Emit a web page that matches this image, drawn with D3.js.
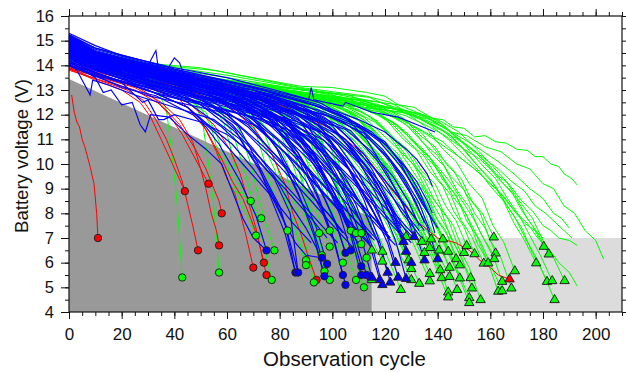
<!DOCTYPE html>
<html>
<head>
<meta charset="utf-8">
<script src="https://cdn.jsdelivr.net/npm/d3@7"></script>
<style>
  body { margin: 0; background: #fff; }
  text { font-family: "Liberation Sans", Arial, sans-serif; fill: #111; }
</style>
</head>
<body>
<svg id="chart" width="626" height="372"></svg>
<script>
// axis ticks
const xTickLabels = [0, 20, 40, 60, 80, 100, 120, 140, 160, 180, 200]
const yTickLabels = [4, 5, 6, 7, 8, 9, 10, 11, 12, 13, 14, 15, 16]

// shaded zones: early failure (below the diagonal) and late failure box
const earlyZone = [[0, 4], [0, 13.45], [115, 7.82], [115, 4]]
const lateZone = [[115, 4], [115, 7], [210, 7], [210, 4]]

// voltage runs, flat [cycle, volt, cycle, volt, ...]
const blueRuns = [
  [0,14.04,10,13.6,20,13.1,33,12.77,47,12.0,52,11.5,57,10.8,65,9.3,71,7.9,75,6.5],
  [0,14.32,10,13.83,25,13.24,44,12.77,58,11.9,63,11.4,68,10.5,72,9.9,76,8.8,82,7.2,86,5.6],
  [0,14.6,10,14.05,25,13.5,45,13.0,59,12.1,64,11.6,69,10.6,77,8.9,80,8.3,83,7.2,87,5.6],
  [0,14.18,10,13.72,30,12.96,54,12.38,68,11.6,78,10.4,82,9.9,86,9.0,92,7.6,96,6.2],
  [0,14.88,10,14.27,30,13.6,55,13.0,69,12.1,79,10.6,87,8.85,93,7.1,97,5.45],
  [0,14.46,10,13.94,30,13.22,56,12.6,70,11.8,80,10.5,88,8.9,94,7.4,98,5.95],
  [0,14.74,10,14.16,35,13.38,62,12.72,76,11.85,86,10.4,94,8.75,100,7.1,104,5.5],
  [0,15.02,10,14.38,35,13.64,63,12.95,77,12.0,87,10.45,95,8.6,101,6.8,105,5.1],
  [0,14.39,10,13.88,35,13.05,63,12.36,77,11.65,87,10.45,95,9.1,101,7.7,105,6.4],
  [0,15.16,10,14.49,35,13.77,65,13.02,79,12.24,89,10.9,97,9.4,103,7.9,107,6.5],
  [0,14.6,10,14.05,35,13.25,69,12.38,83,11.6,93,10.3,101,8.8,107,7.3,111,5.85],
  [0,14.95,10,14.33,35,13.58,69,12.7,83,11.85,93,10.4,101,8.75,107,7.1,111,5.5],
  [0,14.11,10,13.66,35,12.8,71,11.87,85,11.1,95,9.85,103,8.4,109,6.9,113,5.5],
  [0,15.09,10,14.43,40,13.62,73,12.71,87,11.85,97,10.35,105,8.7,111,7.0,115,5.4],
  [0,14.53,10,14.0,40,13.14,76,12.1,90,11.3,100,9.9,108,8.35,114,6.8,118,5.3],
  [0,14.81,10,14.22,40,13.38,77,12.33,91,11.45,101,10.0,109,8.35,115,6.7,119,5.1],
  [0,15.23,10,14.55,40,13.74,80,12.63,94,11.75,104,10.25,112,8.55,118,6.85,122,5.2],
  [0,14.67,10,14.1,40,13.26,82,12.05,96,11.3,106,10.1,114,8.7,120,7.35,124,6.0],
  [0,14.32,10,13.83,40,12.96,83,11.7,97,10.95,107,9.7,115,8.2,121,6.8,125,5.4],
  [0,14.88,10,14.27,40,13.44,85,12.16,99,11.5,109,10.45,117,9.25,123,8.0,127,6.85],
  [0,14.46,10,13.94,40,13.08,86,11.74,100,11.1,110,10.05,118,8.85,124,7.6,128,6.45],
  [0,15.16,10,14.49,40,13.68,86,12.39,100,11.55,110,10.15,118,8.5,124,6.9,128,5.35],
  [0,14.74,10,14.16,40,13.32,88,11.94,102,11.2,112,10.05,120,8.65,126,7.3,130,6.0],
  [0,15.3,10,14.8,20,14.4,40,13.9,60,13.5,80,12.95,95,12.5,105,11.9,113,11.0,121,9.6,127,8.3,131,7.05],
  [0,15.02,10,14.38,40,13.56,93,12.05,107,11.35,117,10.15,125,8.8,131,7.4,135,6.1],
  [0,15.09,10,14.43,40,13.62,98,11.96,112,11.25,122,10.1,130,8.75,136,7.45,140,6.15],
  [0,14.25,10,13.78,40,12.9,79,11.75,93,11.0,103,9.8,111,8.35,117,6.95,121,5.6],
  [0,13.97,10,13.55,30,12.77,58,12.1,72,11.5,82,10.45,90,9.3,96,8.1,100,7.0],
  [0,14.6,10,14.05,35,13.25,67,12.44,81,11.8,91,10.75,99,9.55,105,8.35,109,7.2],
  [0,14.11,10,13.66,40,12.78,74,11.78,88,11.2,98,10.3,106,9.2,112,8.15,116,7.1],
  [0,14.95,10,14.33,40,13.5,78,12.43,92,11.8,102,10.8,110,9.6,116,8.45,120,7.3],
  [0,14.39,10,13.88,40,13.02,84,11.73,98,11.2,108,10.35,116,9.35,122,8.35,126,7.4],
  [0,14.81,10,14.22,40,13.38,91,11.91,105,11.4,115,10.5,123,9.5,129,8.45,133,7.5],
  [0,15.23,10,14.55,40,13.74,95,12.18,109,11.6,119,10.6,127,9.5,133,8.4,137,7.3],
  [0,15.2,10,14.7,40,13.85,80,12.9,91,12.6,92,13.1,93,12.6,104,12.35,105,12.5,115,12.1,125,11.9,132,11.6,139,11.3],
  [0,15.0,10,14.5,40,13.7,80,12.75,100,12.2,110,11.8,120,11.3,128,10.6,132,10.2,136,9.6,138,9.1],
  [0,14.9,10,14.3,40,13.5,80,12.5,100,11.9,112,11.4,120,10.9,126,10.0,130,9.2,134,8.4,137,7.9],
  [0,14.5,10,14.0,20,13.7,30,13.5,31,14.2,33,14.6,34,13.8,36,13.6,40,14.3,42,14.1,44,13.5,60,13.1,80,12.5,95,11.8,105,11.0,113,9.9,119,8.6,124,7.5,127,6.9],
  [0,14.1,3,13.8,6,13.2,8,12.8,9,13.4,15,13.2,25,12.8,40,12.3,55,11.8,65,11.0,72,9.8,78,8.6,82,7.6,86,5.6],
  [0,14.2,10,13.5,13,12.9,16,13.0,20,12.4,24,12.5,27,11.6,29,11.3,31,12.0,38,11.9,45,11.2,52,10.6,58,10.0,62,8.9,66,7.8,70,7.0,75,6.5],
  [0,14.0,10,13.6,20,13.3,28,12.5,30,12.6,34,11.8,36,11.8,40,12.0,50,11.7,60,11.2,70,10.4,78,9.4,84,8.0,87,5.6],
  [0,14.3,10,13.7,30,13.0,45,12.3,55,11.4,62,10.8,70,9.8,76,8.9,82,7.6,86,6.8,90,6.3,96,6.2],
  [0,14.4,10,13.8,35,13.0,50,12.5,62,11.6,70,10.6,78,9.5,85,8.2,90,7.4,94,6.6,97,5.45],
  [0,14.7,10,14.1,40,13.3,60,12.7,72,12.0,82,11.0,90,9.9,97,8.6,102,7.4,105,6.4],
  [0,15.1,10,14.45,40,13.65,70,13.0,85,12.5,97,11.9,107,11.0,115,9.8,121,8.6,126,7.6,129,7.1],
  [0,14.85,10,14.25,40,13.45,70,12.7,85,12.1,95,11.4,103,10.4,110,9.2,115,8.2,119,7.4,122,7.0],
  [0,14.55,10,14.0,40,13.2,70,12.4,82,11.8,92,10.9,100,9.7,106,8.6,110,7.8,113,7.2],
  [0,14.95,10,14.35,40,13.55,75,12.8,90,12.2,102,11.5,112,10.4,120,9.2,126,8.1,131,7.4,134,7.0],
  [0,14.65,10,14.1,40,13.3,65,12.6,78,11.9,88,10.9,95,9.8,101,8.6,105,7.6,108,7.0],
  [0,15.25,10,14.7,40,13.85,80,12.85,95,12.4,108,11.7,118,10.9,126,9.9,132,8.9,136,8.1,140,7.4],
  [0,14.35,10,13.85,40,13.0,70,12.2,82,11.4,91,10.3,98,9.1,104,7.9,108,7.1,111,6.6],
  [0,14.75,10,14.2,40,13.4,75,12.6,88,11.9,99,10.9,107,9.7,113,8.5,118,7.6,122,6.9],
  [0,14.5,10,14.0,30,13.4,45,12.9,60,12.0,75,10.6,90,9.0,100,7.8,106,7.0],
  [0,14.8,10,14.2,30,13.6,50,13.0,65,12.2,80,10.9,95,9.3,108,7.8,116,6.9],
  [0,15.0,10,14.4,35,13.7,55,13.1,72,12.2,88,10.9,102,9.4,114,8.0,122,7.0],
  [0,14.3,10,13.8,30,13.1,45,12.5,58,11.5,70,10.3,82,9.0,92,7.8,98,7.0],
  [0,14.6,10,14.1,35,13.4,55,12.7,70,11.6,85,10.2,98,8.7,108,7.5,114,6.8],
  [0,15.1,10,14.5,40,13.7,60,13.1,78,12.2,95,10.9,110,9.4,122,8.0,130,7.1],
  [0,14.9,10,14.3,40,13.5,60,12.8,76,11.8,92,10.3,106,8.8,117,7.5,124,6.7],
  [0,14.2,10,13.7,30,13.0,45,12.3,56,11.2,66,10.0,76,8.8,85,7.6,92,6.8],
  [0,14.7,10,14.15,40,13.3,60,12.5,74,11.3,88,9.8,100,8.4,110,7.2,116,6.5],
  [0,15.2,10,14.55,40,13.8,65,13.1,85,12.2,100,11.2,113,9.9,124,8.5,133,7.3],
  [0,14.4,10,13.9,35,13.2,52,12.5,66,11.4,80,9.9,92,8.5,102,7.3,108,6.6],
  [0,15.0,10,14.4,40,13.6,62,12.9,80,11.9,96,10.5,110,9.0,121,7.7,128,6.9],
  [0,14.55,10,14.05,40,13.25,58,12.6,72,11.7,86,10.4,98,9.0,108,7.8,115,7.0],
  [0,14.85,10,14.3,40,13.5,65,12.8,82,11.8,98,10.4,112,8.9,123,7.6,130,6.8],
  [0,14.35,10,13.85,35,13.1,50,12.4,62,11.4,74,10.1,86,8.7,96,7.5,102,6.8],
  [0,15.15,10,14.5,40,13.7,70,13.0,90,12.1,105,11.0,118,9.6,128,8.3,135,7.3],
  [0,14.65,10,14.1,40,13.35,62,12.6,78,11.5,92,10.1,104,8.6,113,7.4,118,6.8],
  [0,14.95,10,14.35,40,13.6,68,12.9,86,11.9,102,10.5,116,9.0,126,7.7,132,7.0],
  [0,14.45,10,13.95,38,13.2,55,12.5,68,11.5,80,10.2,90,9.0,99,7.9,104,7.2],
  [0,14.75,10,14.2,40,13.4,64,12.7,80,11.7,94,10.4,106,9.0,115,7.9,121,7.2],
  [0,15.2,10,14.65,40,13.8,70,13.1,90,12.5,105,11.9,115,11.3,122,10.6,128,9.8,133,8.9,137,7.9,139,7.2],
  [0,15.05,10,14.5,40,13.7,70,13.0,90,12.35,104,11.7,114,11.0,121,10.3,127,9.4,132,8.4,135,7.6],
  [0,15.15,10,14.6,40,13.75,75,12.95,95,12.3,110,11.6,120,10.8,127,10.0,132,9.3,136,8.5,138,8.0]
]

const greenRuns = [
  [0,14.4,15,13.9,28,13.3,34,12.9,37,12.2,39,10.5,41,8.5,42,7.0,43,5.4],
  [0,14.5,20,13.7,40,13.0,48,12.5,51,11.5,53,10.0,55,8.3,56,7.0,57,5.6],
  [0,14.3,20,13.6,40,12.9,50,12.3,54,11.5,57,10.3,60,9.4,62,8.9,66,8.8,69,8.5],
  [0,14.2,20,13.5,40,12.8,52,12.1,56,11.2,60,10.0,63,9.0,66,8.2,68,7.9,71,7.1],
  [0,14.5,20,13.8,45,12.9,55,12.4,59,11.6,62,10.4,64,9.3,67,8.6,70,8.3,73,7.8],
  [0,14.4,25,13.5,45,12.8,58,12.1,63,11.0,67,9.6,70,8.4,73,7.2,75,6.3,77,5.3],
  [0,14.5,25,13.6,50,12.8,60,12.2,65,11.3,69,10.0,72,8.6,75,7.5,78,6.5],
  [0,14.6,25,13.7,50,13.0,65,12.3,70,11.6,74,10.2,77,9.0,80,8.1,83,7.3],
  [0,14.3,25,13.5,50,12.7,65,12.0,72,11.2,78,9.8,82,8.6,86,7.3,90,6.1],
  [0,14.6,25,13.7,55,12.9,68,12.2,74,11.3,79,9.9,83,8.4,87,7.0,90,5.9],
  [0,14.4,30,13.5,55,12.7,70,12.0,77,11.2,82,9.8,86,8.3,90,6.7,93,5.2],
  [0,14.7,30,13.7,60,12.9,74,12.3,81,11.6,86,10.3,89,9.0,92,8.0,95,7.2],
  [0,14.5,30,13.6,60,12.7,74,12.0,80,11.3,85,10.0,89,8.6,93,7.3,96,6.3],
  [0,14.3,30,13.4,60,12.5,72,11.8,79,11.0,85,9.5,89,8.1,93,6.8,97,5.65],
  [0,14.8,30,13.8,60,13.0,77,12.4,84,11.8,89,10.5,93,9.3,96,8.2,99,7.3],
  [0,14.4,30,13.5,60,12.6,75,12.0,82,11.3,88,10.0,92,8.7,96,7.5,99,6.65],
  [0,14.5,30,13.6,60,12.8,76,12.1,83,11.2,88,9.6,92,8.0,96,6.5,99,5.3],
  [0,14.7,30,13.7,60,12.9,80,12.2,87,11.5,93,10.1,97,8.7,101,7.2,104,6.0],
  [0,14.8,30,13.8,65,13.0,84,12.4,91,11.8,97,10.4,101,9.1,104,8.1,107,7.3],
  [0,14.6,30,13.7,65,12.8,85,12.2,92,11.6,98,10.3,102,9.0,106,7.9,109,7.2],
  [0,14.4,30,13.5,65,12.6,84,11.9,91,11.1,96,9.6,100,8.1,105,6.6,109,5.3],
  [0,14.8,30,13.8,70,12.9,88,12.4,95,11.8,100,10.5,104,9.2,108,8.0,111,7.2],
  [0,14.5,30,13.6,70,12.7,87,12.1,94,11.4,99,10.1,103,8.8,107,7.6,111,6.75],
  [0,14.6,30,13.7,70,12.8,88,12.1,95,11.3,100,9.7,104,8.1,108,6.5,112,5.0],
  [0,14.7,30,13.7,70,12.9,90,12.3,97,11.6,102,10.2,106,8.8,110,7.3,113,6.2],
  [0,14.5,30,13.6,60,12.9,75,12.3,88,11.1,98,9.8,107,8.2,115,6.5],
  [0,14.3,30,13.4,60,12.6,75,11.9,88,10.5,98,9.0,107,7.2,115,5.3],
  [0,14.6,30,13.7,64,13.0,79,12.4,92,11.2,102,9.8,111,8.2,119,6.45],
  [0,14.4,30,13.5,64,12.7,79,12.1,92,10.8,102,9.4,111,7.8,119,6.05],
  [0,14.5,30,13.6,71,12.8,86,12.0,99,10.5,109,8.9,118,7.0,126,4.9],
  [0,14.8,30,13.8,73,13.1,88,12.5,101,11.4,111,10.1,120,8.7,128,7.05],
  [0,14.6,30,13.7,74,12.9,89,12.2,102,11.0,112,9.6,121,7.9,129,6.1],
  [0,14.3,30,13.4,75,12.6,90,11.9,103,10.7,113,9.2,122,7.6,130,5.75],
  [0,14.4,30,13.6,75,12.8,90,12.05,103,10.7,113,9.1,122,7.3,130,5.3],
  [0,14.5,30,13.6,78,12.9,93,12.1,106,10.7,116,9.1,125,7.2,133,5.15],
  [0,14.7,30,13.7,79,13.0,94,12.4,107,11.3,117,10.0,126,8.5,134,6.85],
  [0,14.5,30,13.6,80,12.8,95,12.2,108,11.0,118,9.7,127,8.1,135,6.4],
  [0,14.7,30,13.8,82,12.95,97,12.4,110,11.3,120,10.0,129,8.55,137.5,6.95],
  [0,14.4,30,13.5,82,12.7,97,12.1,110,11.0,120,9.7,129,8.2,137,6.6],
  [0,14.5,30,13.6,82,12.8,97,12.1,110,10.75,120,9.2,129,7.5,137,5.55],
  [0,14.2,30,13.4,82,12.5,97,11.8,110,10.45,120,8.9,129,7.2,137,5.25],
  [0,14.6,30,13.7,85,12.9,100,12.3,106,11.9,113,11.1,118,10.7,123,9.8,128,9.3,132,8.2,136,7.6,140.5,6.5],
  [0,14.7,30,13.8,87,12.85,102,12.3,108,12.0,115,11.2,120,10.85,125,10.0,130,9.45,134,8.5,138,7.95,142,6.95],
  [0,14.3,30,13.5,86,12.6,101,11.9,107,11.5,114,10.7,119,10.15,124,9.2,129,8.6,133,7.5,137,6.85,141,5.7],
  [0,14.4,30,13.6,86,12.75,101,12.0,108,11.55,114,10.7,119,10.1,124,9.1,129,8.45,133,7.3,137,6.6,141.5,5.38],
  [0,14.6,30,13.7,89,12.8,104,12.2,110,11.8,117,11.0,122,10.55,127,9.7,132,9.1,136,8.1,140,7.5,144,6.45],
  [0,14.3,30,13.5,89,12.6,104,11.9,110,11.5,117,10.7,122,10.2,127,9.3,132,8.65,136,7.6,140,6.95,144.5,5.8],
  [0,14.2,30,13.4,89,12.45,104,11.75,117,10.5,127,9.0,136,7.3,144.5,5.43],
  [0,14.5,30,13.6,89,12.7,104,11.9,110,11.4,117,10.45,122,9.85,127,8.8,132,8.05,136,6.9,140,6.1,144,4.8],
  [0,14.2,30,13.4,89,12.4,104,11.6,117,10.2,127,8.5,136,6.65,144,4.6],
  [0,14.5,30,13.6,92,12.7,100,12.5,107,12.1,113,11.7,120,10.9,125,10.4,130,9.5,134,9.1,139,7.9,143,7.3,147,6.15],
  [0,14.3,30,13.5,93,12.55,108,11.9,114,11.5,121,10.7,126,10.2,131,9.3,136,8.8,140,7.7,144,7.05,148.4,5.9],
  [0,14.4,30,13.6,93,12.7,108,12.0,121,10.6,131,9.1,140,7.3,148.4,5.37],
  [0,14.2,30,13.4,92,12.5,107,11.75,113,11.25,120,10.35,125,9.75,130,8.75,135,8.1,139,6.9,143,6.15,147.4,4.9],
  [0,14.6,30,13.7,95,12.8,110,12.2,116,11.8,123,11.0,128,10.55,133,9.7,138,9.1,142,8.1,146,7.5,150,6.4],
  [0,14.4,30,13.6,96,12.65,111,12.1,117,11.75,124,11.0,129,10.55,134,9.7,139,9.2,143,8.3,147,7.7,151,6.68],
  [0,14.3,30,13.5,97,12.6,112,11.9,125,10.6,135,9.0,144,7.3,152.5,5.38],
  [0,14.5,30,13.6,98,12.75,113,12.0,119,11.5,126,10.5,131,9.95,136,8.9,141,8.2,145,7.0,149,6.25,153,4.96],
  [0,14.2,30,13.4,97,12.45,112,11.65,125,10.2,135,8.55,144,6.6,152,4.57],
  [0,14.4,30,13.5,97,12.6,112,11.8,125,10.2,135,8.5,144,6.5,152,4.37],
  [0,14.7,30,13.8,99,12.85,114,12.2,120,11.85,127,11.0,132,10.55,137,9.7,142,9.1,146,8.1,150,7.45,154,6.35],
  [0,14.3,30,13.5,101,12.55,116,11.7,122,11.2,129,10.2,134,9.55,139,8.5,144,7.75,148,6.6,152,5.8,156.3,4.49],
  [0,14.5,30,13.6,102,12.7,117,12.0,123,11.6,130,10.8,135,10.3,140,9.4,145,8.75,149,7.7,153,7.05,157.5,5.97],
  [0,14.4,30,13.5,104,12.6,119,11.95,125,11.55,132,10.75,137,10.25,142,9.35,147,8.75,151,7.7,155,7.05,159.2,5.98],
  [0,14.7,30,13.8,106,12.8,121,12.2,127,11.85,134,11.1,139,10.7,144,9.9,149,9.4,153,8.5,157,8.0,161.3,7.03],
  [0,14.5,30,13.6,107,12.6,122,11.95,128,11.6,135,10.8,140,10.35,145,9.5,150,8.95,154,8.0,158,7.4,162,6.38],
  [0,14.3,30,13.5,106.5,12.45,121.5,11.8,134.5,10.6,144.5,9.3,153.5,7.8,161.5,6.15],
  [0,14.3,30,13.5,108,12.5,123,11.7,129,11.2,136,10.25,141,9.65,146,8.65,151,7.95,155,6.8,159,6.05,163,4.83],
  [0,14.5,30,13.6,109.5,12.6,124.5,11.85,131,11.35,137.5,10.45,142.5,9.9,147.5,8.9,152,8.25,156.5,7.15,160.5,6.45,164.5,5.23],
  [0,14.2,30,13.4,109.5,12.4,124.5,11.6,137.5,10.2,147.5,8.6,156.5,6.8,164.5,4.85],
  [0,14.4,30,13.5,113,12.55,128,11.75,134,11.25,141,10.3,146,9.75,151,8.75,156,8.05,160,6.9,164,6.2,168,4.96],
  [0,14.6,30,13.7,114,12.7,129,12.0,135,11.55,142,10.6,147,10.1,152,9.2,157,8.6,161,7.5,165,6.85,169.3,5.66],
  [0,14.6,30,13.7,90,12.8,122,12.3,130,12.0,137,11.6,144,11.0,150,10.35,155,9.8,160,9.1,165,8.5,169,7.6,173,6.9,177.4,5.98],
  [0,14.7,30,13.8,90,12.9,125,12.4,132,12.1,140,11.75,146,11.2,153,10.6,158,10.1,163,9.4,168,8.9,172,8.1,176,7.5,180.3,6.65],
  [0,14.5,30,13.6,90,12.7,127,12.2,134,11.95,142,11.6,148,11.0,155,10.4,160,9.9,165,9.2,170,8.6,174,7.8,178,7.2,182.2,6.34],
  [0,14.4,30,13.5,90,12.6,126.5,12.1,134,11.8,141.5,11.4,148,10.8,154.5,10.0,160,9.4,164.5,8.6,169,7.9,173.5,6.95,177,6.3,181.5,5.23],
  [0,14.5,30,13.6,90,12.7,128.5,12.15,136,11.9,143.5,11.4,150,10.8,156.5,10.0,162,9.4,166.5,8.6,171,7.9,175.5,7.0,179,6.3,183.5,5.26],
  [0,14.6,30,13.7,95,12.8,133,12.05,140,11.8,148,11.3,154,10.7,161,9.9,166,9.3,171,8.5,176,7.8,180,6.9,184,6.2,188.2,5.26],
  [0,14.4,30,13.5,90,12.6,129,12.05,136,11.7,144,11.25,150,10.6,157,9.7,162,9.1,167,8.2,172,7.4,176,6.4,180,5.6,184.4,4.49],
  [0,14.9,10,14.7,28,14.1,50,13.9,70,13.5,88,13.15,100,13.1,113,12.9,120,12.75,125,12.4,131,12.3,138,11.85,142,11.8,146,11.5,150,11.45,154,11.1,158,11.15,162,10.9,166,10.85,170,10.6,174,10.55,177,10.3,180,10.3,183,10.0,186,9.9,188,9.6,191,9.4,193,9.15],
  [0,14.8,28,14.05,55,13.8,88,13.1,113,12.75,122,12.5,130,12.0,137,11.8,145,11.3,151,11.15,158,10.7,164,10.5,170,10.0,175,9.8,180,9.2,184,9.0,188,8.3,192,8.0,196,7.3,200,6.9,203,6.15],
  [0,14.6,30,13.9,60,13.4,95,12.8,120,12.2,128,11.95,135,11.6,142,11.2,150,10.6,156,10.2,162,9.6,167,9.2,172,8.5,176,8.1,180,7.5,183,7.3,186,7.0,190,6.9,193,6.7],
  [0,14.5,30,13.8,60,13.3,95,12.7,118,12.1,126,11.8,133,11.4,140,10.9,148,10.3,154,9.8,160,9.2,165,8.7,170,8.0,174,7.6,178,7.0,182,6.6,186,6.0,190,5.6,193,5.05],
  [0,14.8,30,14.05,60,13.6,92,13.0,118,12.5,127,12.2,135,11.8,142,11.5,150,11.0,156,10.6,163,10.1,169,9.6,175,9.0,180,8.6,184,8.0,187,7.8,190,7.4],
  [0,14.7,30,14.0,60,13.5,92,12.95,116,12.45,124,12.2,132,11.9,139,11.5,146,11.1,152,10.7,158,10.2,163,9.8,168,9.3,173,8.9,177,8.3,181,8.0,185,7.6,188,7.3,191,7.0],
  [0,14.6,30,13.9,60,13.4,90,12.85,112,12.4,120,12.1,128,11.7,135,11.3,142,10.9,148,10.3,154,9.8,159,9.3,164,8.8,169,8.1,173,7.6,177,7.3,180,7.0]
]

const redRuns = [
  [1,12.8,2,12.1,3,11.7,4,11.5,5,11.0,6,10.7,7,10.3,8,9.9,9.5,9.2,10.5,8.0,11,7.0],
  [0,13.85,10,13.4,20,13.0,27,12.5,31,11.9,35,11.0,38,10.3,41,9.6,44,8.9],
  [0,13.9,10,13.45,22,13.0,28,12.6,33,11.8,37,11.0,40,10.2,43,9.3,45,8.4,47,7.5,49,6.5],
  [0,14.0,12,13.55,25,13.2,32,12.7,38,12.0,43,11.2,47,10.4,50,9.8,53,9.2],
  [0,13.95,12,13.5,25,13.1,35,12.5,42,11.8,47,10.9,50,9.8,52,9.0,54,8.0,56,7.3,57,6.7],
  [0,13.8,12,13.4,25,13.0,35,12.4,42,11.6,48,10.6,52,9.8,55,9.0,57,8.5,58,8.0],
  [0,14.0,15,13.6,30,13.2,42,12.6,50,11.8,56,10.5,60,9.4,63,8.8,65,8.0,67,7.2,70,5.8],
  [0,13.85,15,13.45,30,13.0,45,12.3,52,11.4,58,10.2,62,9.3,66,8.6,69,7.8,72,6.9,74,6.0],
  [0,13.9,15,13.5,30,13.1,45,12.5,55,11.6,61,10.6,65,9.6,68,8.5,71,7.4,73,6.4,75,5.5],
  [0,14.0,20,13.6,40,13.2,60,12.4,70,11.5,77,10.4,82,9.2,85,8.0,88,7.2,91,6.2,94,5.3],
  [0,14.1,20,13.7,50,13.2,80,12.4,100,11.4,112,10.4,120,9.3,126,8.5,133,7.6,140,7.0,147,6.8,152,6.5,156,6.1,160,5.8,163,5.5,167.3,5.33]
]

// end-of-run markers: [cycle, volt, series]
const circleEnds = [
  [11,7.0,'r'],[44,8.9,'r'],[49,6.5,'r'],[53,9.2,'r'],[57,6.7,'r'],[58,8.0,'r'],[70,5.8,'r'],[74,6.0,'r'],[75,5.5,'r'],[94,5.3,'r'],
  [43,5.4,'g'],[57,5.6,'g'],[69,8.5,'g'],[71,7.1,'g'],[73,7.8,'g'],[77,5.3,'g'],[78,6.5,'g'],[83,7.3,'g'],[90,6.1,'g'],[90,5.9,'g'],
  [93,5.2,'g'],[95,7.2,'g'],[96,6.3,'g'],[97,5.65,'g'],[99,7.3,'g'],[99,6.65,'g'],[99,5.3,'g'],[104,6.0,'g'],[107,7.3,'g'],[109,7.2,'g'],
  [109,5.3,'g'],[111,7.2,'g'],[111,6.75,'g'],[112,5.0,'g'],[113,6.2,'g'],
  [75,6.5,'b'],[86,5.6,'b'],[87,5.6,'b'],[96,6.2,'b'],[97,5.45,'b'],[98,5.95,'b'],[104,5.5,'b'],[105,5.1,'b'],[105,6.4,'b'],[107,6.5,'b'],
  [111,5.85,'b'],[111,5.5,'b'],[113,5.5,'b']
]

const triangleEnds = [
  [115,6.5,'g'],[115,5.3,'g'],[119,6.45,'g'],[119,6.05,'g'],[126,4.9,'g'],[128,7.05,'g'],[129,6.1,'g'],[130,5.75,'g'],[130,5.3,'g'],[133,5.15,'g'],
  [134,6.85,'g'],[135,6.4,'g'],[137.5,6.95,'g'],[137,6.6,'g'],[137,5.55,'g'],[137,5.25,'g'],[140.5,6.5,'g'],[142,6.95,'g'],[141,5.7,'g'],[141.5,5.38,'g'],
  [144,6.45,'g'],[144.5,5.8,'g'],[144.5,5.43,'g'],[144,4.8,'g'],[144,4.6,'g'],[147,6.15,'g'],[148.4,5.9,'g'],[148.4,5.37,'g'],[147.4,4.9,'g'],[150,6.4,'g'],
  [151,6.68,'g'],[152.5,5.38,'g'],[153,4.96,'g'],[152,4.57,'g'],[152,4.37,'g'],[154,6.35,'g'],[156.3,4.49,'g'],[157.5,5.97,'g'],[159.2,5.98,'g'],[161.3,7.03,'g'],
  [162,6.38,'g'],[161.5,6.15,'g'],[163,4.83,'g'],[164.5,5.23,'g'],[164.5,4.85,'g'],[168,4.96,'g'],[169.3,5.66,'g'],[177.4,5.98,'g'],[180.3,6.65,'g'],[182.2,6.34,'g'],
  [181.5,5.23,'g'],[183.5,5.26,'g'],[188.2,5.26,'g'],[184.4,4.49,'g'],
  [115,5.4,'b'],[118,5.3,'b'],[119,5.1,'b'],[121,5.6,'b'],[122,5.2,'b'],[124,6.0,'b'],[125,5.4,'b'],[127,6.85,'b'],[128,6.45,'b'],[128,5.35,'b'],
  [130,6.0,'b'],[131,7.05,'b'],[135,6.1,'b'],[140,6.15,'b'],
  [167.3,5.33,'r']
]

const colors = { b: '#0000ff', g: '#00ff00', r: '#ff0000' }

const margin = { left: 69, right: 622, top: 16, bottom: 312 }

const svg = d3.select('#chart')
const x = d3.scaleLinear().domain([0, 210]).range([margin.left, margin.right])
const y = d3.scaleLinear().domain([4, 16]).range([margin.bottom, margin.top])

const toPts = (a) => d3.range(0, a.length, 2).map((i) => [a[i], a[i + 1]])
const line = d3.line().x((d) => x(d[0])).y((d) => y(d[1]))

// shaded zones
svg.append('path').attr('d', line(earlyZone) + 'Z').attr('fill', '#999999')
svg.append('path').attr('d', line(lateZone) + 'Z').attr('fill', '#dcdcdc')

const plot = svg.append('g')

// runs: green under blue, red in between
const drawRuns = (runs, color, w) => {
  plot.append('g').selectAll('path')
    .data(runs)
    .enter()
    .append('path')
    .attr('d', (d) => line(toPts(d)))
    .attr('fill', 'none')
    .attr('stroke', color)
    .attr('stroke-width', w)
}
drawRuns(greenRuns, colors.g, 1)
drawRuns(redRuns, colors.r, 1)
drawRuns(blueRuns, colors.b, 1.15)

// end markers
plot.append('g').selectAll('circle')
  .data(circleEnds)
  .enter()
  .append('circle')
  .attr('cx', (d) => x(d[0]))
  .attr('cy', (d) => y(d[1]))
  .attr('r', 3.7)
  .attr('fill', (d) => colors[d[2]])
  .attr('stroke', '#222')
  .attr('stroke-width', 1)

const tri = d3.symbol().type(d3.symbolTriangle).size(38)
plot.append('g').selectAll('path')
  .data(triangleEnds)
  .enter()
  .append('path')
  .attr('d', tri)
  .attr('transform', (d) => 'translate(' + x(d[0]) + ',' + y(d[1]) + ')')
  .attr('fill', (d) => colors[d[2]])
  .attr('stroke', '#222')
  .attr('stroke-width', 1)

// axes: major ticks with labels, minor ticks without
const xMinor = d3.range(0, 210.1, 5)
const yMinor = d3.range(4, 16.01, 0.5)

const addAxis = (axis, tr, values, size, labels) => {
  const g = svg.append('g').attr('transform', tr)
    .call(axis.tickValues(values).tickSize(size).tickFormat(labels ? d3.format('d') : ''))
  g.select('.domain').remove()
  g.selectAll('line').attr('stroke', '#111')
  return g
}

const bx = addAxis(d3.axisBottom(x), 'translate(0,' + margin.bottom + ')', xTickLabels, 7, true)
bx.selectAll('text').attr('font-size', 17).attr('dy', '1.05em')
addAxis(d3.axisBottom(x), 'translate(0,' + margin.bottom + ')', xMinor, 4, false)
addAxis(d3.axisTop(x), 'translate(0,' + margin.top + ')', xTickLabels, 7, false)
addAxis(d3.axisTop(x), 'translate(0,' + margin.top + ')', xMinor, 4, false)

const ly = addAxis(d3.axisLeft(y), 'translate(' + margin.left + ',0)', yTickLabels, 8, true)
ly.selectAll('text').attr('font-size', 16.5).attr('x', -15)
addAxis(d3.axisLeft(y), 'translate(' + margin.left + ',0)', yMinor, 4, false)
addAxis(d3.axisRight(y), 'translate(' + margin.right + ',0)', yMinor, 4, false)

svg.selectAll('.tick text').style('font-family', '"Liberation Sans", Arial, sans-serif').attr('fill', '#111')

// frame
svg.append('rect')
  .attr('x', margin.left).attr('y', margin.top)
  .attr('width', margin.right - margin.left).attr('height', margin.bottom - margin.top)
  .attr('fill', 'none').attr('stroke', '#111').attr('stroke-width', 1.2)

// titles
svg.append('text')
  .attr('x', (margin.left + margin.right) / 2 - 1).attr('y', 366)
  .attr('text-anchor', 'middle').attr('font-size', 20.5)
  .text('Observation cycle')

svg.append('text')
  .attr('transform', 'translate(28,156) rotate(-90)')
  .attr('text-anchor', 'middle').attr('font-size', 18.6)
  .text('Battery voltage (V)')
</script>
</body>
</html>
